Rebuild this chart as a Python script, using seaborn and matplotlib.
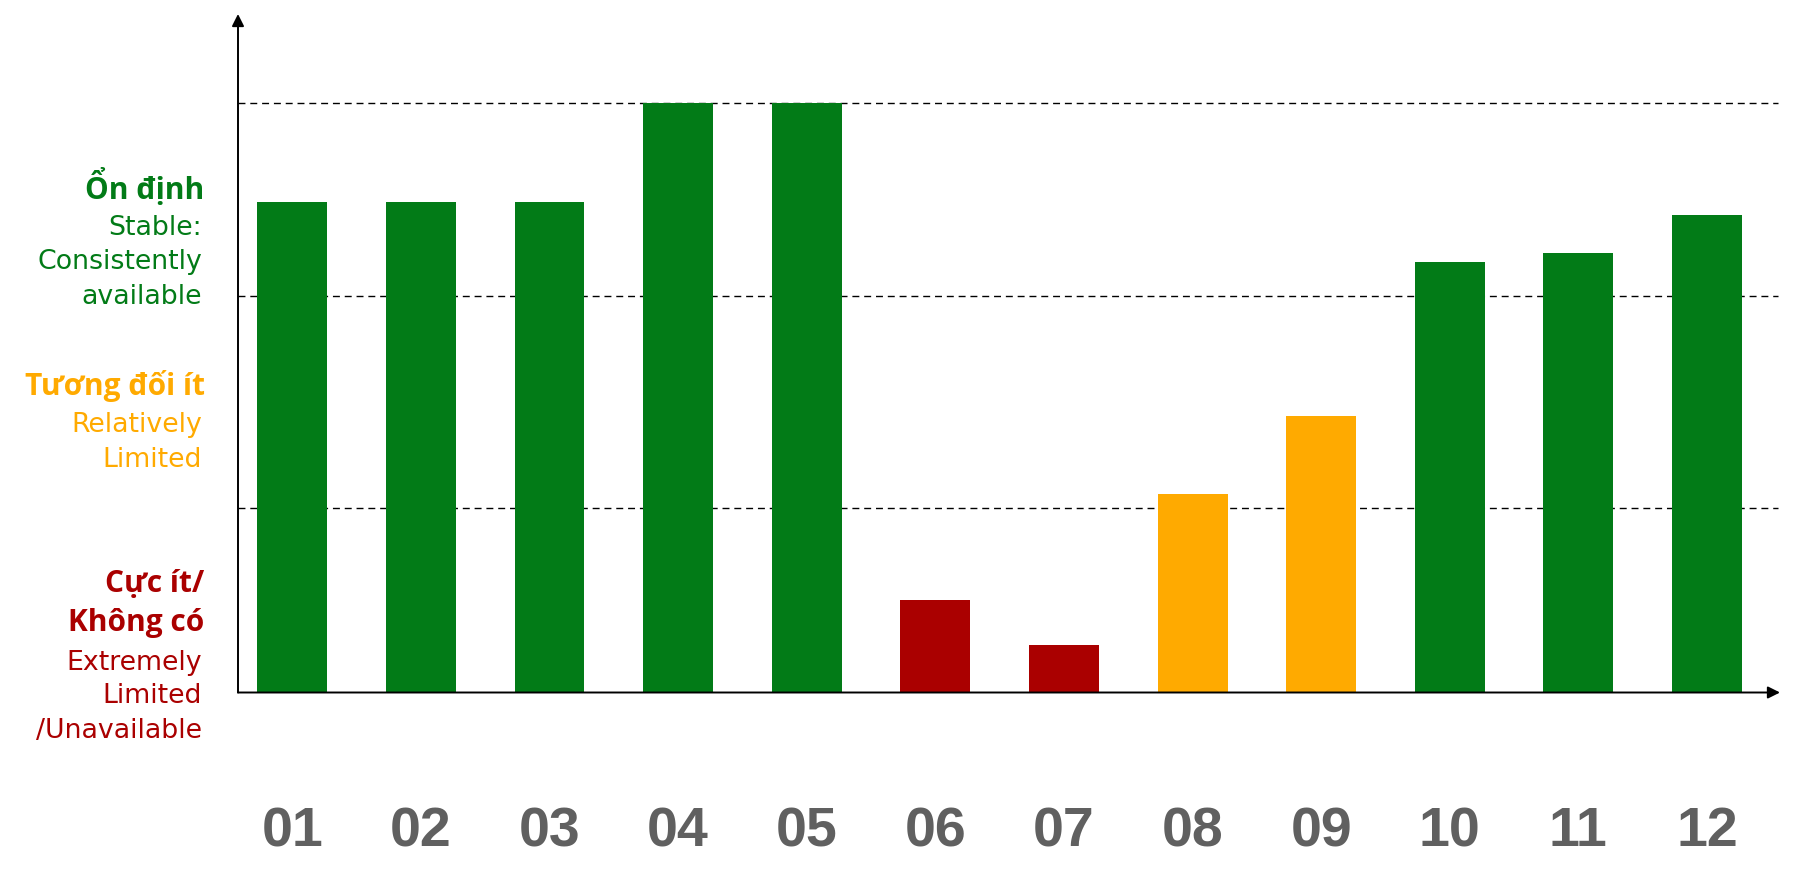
import matplotlib
matplotlib.use("Agg")
import matplotlib.pyplot as plt
import seaborn as sns
import pandas as pd

# ---- data ----
months = ["01", "02", "03", "04", "05", "06", "07", "08", "09", "10", "11", "12"]
availability = [83.2, 83.2, 83.2, 100, 100, 15.7, 8.1, 33.7, 46.9, 73.0, 74.6, 81.0]
status = ["stable", "stable", "stable", "stable", "stable", "none", "none",
          "limited", "limited", "stable", "stable", "stable"]
thresholds = [31.3, 67.3, 100]

status_colors = {"stable": "#027B17", "limited": "#FFAA00", "none": "#AA0000"}

df = pd.DataFrame({"month": months, "value": availability, "status": status})

sns.set_theme(style="white")
plt.rcParams["font.family"] = ["Open Sans", "DejaVu Sans"]

W, H = 1814, 873
fig = plt.figure(figsize=(W / 100, H / 100), dpi=100)
ax = fig.add_axes([238 / W, (H - 692.5) / H, (1780 - 238) / W, (692.5 - 14) / H])

sns.barplot(data=df, x="month", y="value", hue="status", palette=status_colors,
            dodge=False, width=0.544, saturation=1, legend=False, ax=ax,
            linewidth=0, order=months)

ax.set_xlim(-0.422, 11.568)
ax.set_ylim(0, 115.1)

for t in thresholds:
    ax.hlines(t, -0.422, 11.55, colors="black", linestyles=(0, (5, 3.5)), lw=1.0, zorder=0.5)

for s in ax.spines.values():
    s.set_visible(False)

arrow_kw = dict(arrowstyle="-|>", color="black", lw=1.4, mutation_scale=18, shrinkA=0, shrinkB=0)
ax.annotate("", xy=(1, 0), xytext=(0, 0), xycoords="axes fraction", textcoords="axes fraction",
            arrowprops=arrow_kw, annotation_clip=False)
ax.annotate("", xy=(0, 1), xytext=(0, 0), xycoords="axes fraction", textcoords="axes fraction",
            arrowprops=arrow_kw, annotation_clip=False)

ax.set_yticks([])
ax.set_xlabel("")
ax.set_ylabel("")
ax.tick_params(axis="x", length=0, pad=82)
ax.set_xticks(range(len(months)))
ax.set_xticklabels(months, fontsize=40, fontweight="bold", color="#606060",
                   family=["Liberation Sans", "DejaVu Sans"])

# ---- left category labels ----
def ftext(x, y, s, color, bold=False, size=19.3):
    fam = ["Open Sans", "DejaVu Sans"] if bold else ["DejaVu Sans"]
    fig.text(x / W, 1 - y / H, s, ha="right", va="center", color=color,
             fontsize=size, fontweight="bold" if bold else "normal", family=fam)

g, o, r = status_colors["stable"], status_colors["limited"], status_colors["none"]
ftext(204, 187, "Ổn định", g, bold=True, size=21.5)
ftext(202, 228, "Stable:", g)
ftext(202, 262, "Consistently", g)
ftext(202, 297, "available", g)

ftext(205, 386, "Tương đối ít", o, bold=True, size=21.5)
ftext(202, 425, "Relatively", o)
ftext(202, 460, "Limited", o)

ftext(204, 584, "Cực ít/", r, bold=True, size=21.5)
ftext(204, 623, "Không có", r, bold=True, size=21.5)
ftext(202, 663, "Extremely", r)
ftext(202, 696, "Limited", r)
ftext(202, 731, "/Unavailable", r)

fig.savefig("out.png", dpi=100)
